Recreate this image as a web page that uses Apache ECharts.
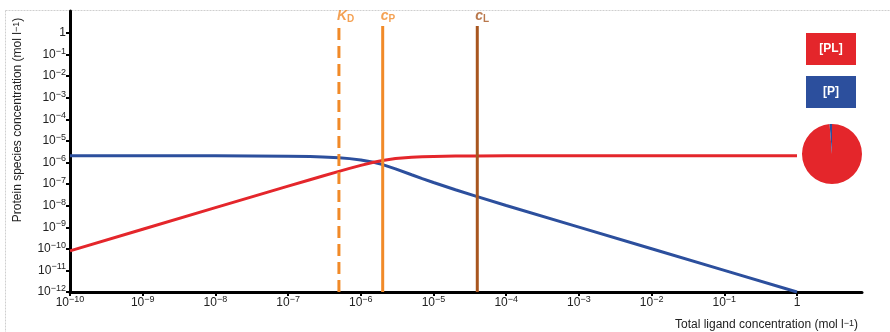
<!DOCTYPE html>
<html><head><meta charset="utf-8">
<script src="https://cdn.jsdelivr.net/npm/echarts@6/dist/echarts.min.js"></script>
<style>html,body{margin:0;padding:0;background:#fff}#c{width:890px;height:332px}</style>
</head><body><div id="c"></div>
<script>
// ---- data ----
const ligandTotal = [1e-10, 1e-9, 1e-8, 1e-7, 2e-7, 3e-7, 5e-7, 7e-7, 1e-6, 1.5e-6, 2e-6, 3e-6, 5e-6, 7e-6, 1e-5, 2e-5, 4e-5, 1e-4, 1e-3, 1e-2, 1e-1, 1];
const complexPL  = [8e-11, 8e-10, 8e-9, 7.9e-8, 1.57e-7, 2.34e-7, 3.82e-7, 5.23e-7, 7.19e-7, 1.0e-6, 1.22e-6, 1.5e-6, 1.73e-6, 1.82e-6, 1.88e-6, 1.95e-6, 1.97e-6, 1.99e-6, 2.0e-6, 2.0e-6, 2.0e-6, 2.0e-6];
const freeP      = [2.0e-6, 2.0e-6, 1.99e-6, 1.92e-6, 1.84e-6, 1.77e-6, 1.62e-6, 1.48e-6, 1.28e-6, 1.0e-6, 7.8e-7, 5.0e-7, 2.66e-7, 1.76e-7, 1.16e-7, 5.4e-8, 2.6e-8, 1.0e-8, 1.0e-9, 1.0e-10, 1.0e-11, 1.0e-12];
const xTickValues = [1e-10, 1e-9, 1e-8, 1e-7, 1e-6, 1e-5, 1e-4, 1e-3, 1e-2, 1e-1, 1];
const yTickValues = [1e-12, 1e-11, 1e-10, 1e-9, 1e-8, 1e-7, 1e-6, 1e-5, 1e-4, 1e-3, 1e-2, 1e-1, 1];
const markerSymbols = ['K', 'c', 'c'];
const markerSubs = ['D', 'P', 'L'];
const markerValues = [5e-7, 2e-6, 4e-5];
const markerBottom = 1e-12;
const markerTop = 2;
const pieNames = ['[PL]', '[P]'];
const pieValues = [1.974, 0.026];
const legendNames = ['[PL]', '[P]'];

// ---- styles ----
const RED = '#e4262b', BLUE = '#2c4f9d', ORANGE = '#f18a28', BROWN = '#a8561f';
const FONT = "'Liberation Sans', Arial, sans-serif";
const markerColors = [ORANGE, ORANGE, BROWN];
const markerDash = ['dashed', 'solid', 'solid'];

function expLabel(v) {
  const e = Math.round(Math.log10(v));
  if (e === 0) return '{b|1}';
  return '{b|10}{s|' + (e < 0 ? '\u2212' : '') + Math.abs(e) + '}';
}
const richTick = {
  b: { fontSize: 12, fontFamily: FONT, color: '#222', lineHeight: 16 },
  s: { fontSize: 9, fontFamily: FONT, color: '#222', verticalAlign: 'top', lineHeight: 10 }
};

const chart = echarts.init(document.getElementById('c'), null, { renderer: 'canvas' });

const series = [
  { type: 'line', name: '[P]', xAxisIndex: 0, yAxisIndex: 0, data: ligandTotal.map((x, i) => [x, freeP[i]]),
    showSymbol: false, symbol: 'none', smooth: false, lineStyle: { color: BLUE, width: 3 }, z: 3, silent: true },
  { type: 'line', name: '[PL]', xAxisIndex: 0, yAxisIndex: 0, data: ligandTotal.map((x, i) => [x, complexPL[i]]),
    showSymbol: false, symbol: 'none', smooth: false, lineStyle: { color: RED, width: 3 }, z: 3, silent: true }
];
markerValues.forEach((mv, i) => {
  series.push({
    type: 'line', xAxisIndex: 0, yAxisIndex: 0, symbol: 'none', silent: true, z: 4,
    lineStyle: { color: markerColors[i], width: 3, type: markerDash[i] },
    data: [[mv, markerBottom], [mv, markerTop]]
  });
});
series.push({
  type: 'scatter', xAxisIndex: 0, yAxisIndex: 0, silent: true, z: 5,
  symbol: 'circle', symbolSize: 2, itemStyle: { color: 'rgba(0,0,0,0)' },
  data: markerValues.map((mv, i) => ({
    value: [mv, markerTop],
    label: {
      show: true, position: 'top', align: 'left', distance: 1, offset: [-2, 0],
      formatter: '{m|' + markerSymbols[i] + '}{d|' + markerSubs[i] + '}',
      rich: {
        m: { fontSize: 14, fontStyle: 'italic', fontWeight: 'bold', fontFamily: FONT, color: markerColors[i], lineHeight: 16 },
        d: { fontSize: 10, fontWeight: 'bold', fontFamily: FONT, color: markerColors[i], verticalAlign: 'bottom', lineHeight: 10 }
      }
    }
  }))
});
series.push({
  type: 'pie', center: [832, 154], radius: 30, startAngle: 90, clockwise: true, silent: true,
  label: { show: false }, labelLine: { show: false },
  itemStyle: { borderWidth: 0 },
  data: pieNames.map((n, i) => ({ name: n, value: pieValues[i], itemStyle: { color: i === 0 ? RED : BLUE } }))
});

const option = {
  animation: false,
  backgroundColor: '#fff',
  grid: [
    { left: 70, right: 28, top: 11, bottom: 40 },
    { left: 70, right: 93, top: 33, bottom: 40 }
  ],
  xAxis: [
    { type: 'log', gridIndex: 0, min: 1e-10, max: 7.83, logBase: 10,
      axisLine: { show: true, lineStyle: { color: '#000', width: 3 } },
      axisTick: { show: false }, axisLabel: { show: false }, splitLine: { show: false } },
    { type: 'log', gridIndex: 1, min: xTickValues[0], max: xTickValues[xTickValues.length - 1], logBase: 10,
      interval: 1, splitNumber: 10,
      axisLine: { show: false },
      axisTick: { show: true, length: 4, lineStyle: { color: '#000', width: 2 } },
      axisLabel: { show: true, margin: 3, interval: 0, hideOverlap: false, formatter: expLabel, rich: richTick },
      splitLine: { show: false } }
  ],
  yAxis: [
    { type: 'log', gridIndex: 0, min: 1e-12, max: 10, logBase: 10,
      axisLine: { show: true, lineStyle: { color: '#000', width: 3 } },
      axisTick: { show: false }, axisLabel: { show: false }, splitLine: { show: false } },
    { type: 'log', gridIndex: 1, min: yTickValues[0], max: yTickValues[yTickValues.length - 1], logBase: 10,
      interval: 1, splitNumber: 12,
      axisLine: { show: false },
      axisTick: { show: true, length: 4, lineStyle: { color: '#000', width: 2 } },
      axisLabel: { show: true, margin: 4, interval: 0, hideOverlap: false, formatter: expLabel, rich: richTick },
      splitLine: { show: false } }
  ],
  series: series,
  graphic: [
    { type: 'rect', silent: true, z: 0, shape: { x: 5.5, y: 10.5, width: 900, height: 400 },
      style: { fill: 'none', stroke: '#cfcfcf', lineWidth: 1, lineDash: [2, 1] } },
    { type: 'rect', silent: true, shape: { x: 806, y: 33, width: 50, height: 32 }, style: { fill: RED } },
    { type: 'text', silent: true, x: 831, y: 49, style: { text: legendNames[0], fill: '#fff', font: 'bold 12px ' + FONT, align: 'center', verticalAlign: 'middle' } },
    { type: 'rect', silent: true, shape: { x: 806, y: 76, width: 50, height: 32 }, style: { fill: BLUE } },
    { type: 'text', silent: true, x: 831, y: 92, style: { text: legendNames[1], fill: '#fff', font: 'bold 12px ' + FONT, align: 'center', verticalAlign: 'middle' } },
    { type: 'text', silent: true, x: 18, y: 120, rotation: Math.PI / 2,
      style: { text: 'Protein species concentration (mol l{s|\u22121})', fill: '#222', font: '12px ' + FONT, align: 'center', verticalAlign: 'middle',
        rich: { s: { fontSize: 9, fontFamily: FONT, fill: '#222', verticalAlign: 'top', lineHeight: 10 } } } },
    { type: 'text', silent: true, x: 858, y: 325,
      style: { text: 'Total ligand concentration (mol l{s|\u22121})', fill: '#222', font: '12px ' + FONT, align: 'right', verticalAlign: 'middle',
        rich: { s: { fontSize: 9, fontFamily: FONT, fill: '#222', verticalAlign: 'top', lineHeight: 10 } } } }
  ]
};
chart.setOption(option);
</script>
</body></html>
